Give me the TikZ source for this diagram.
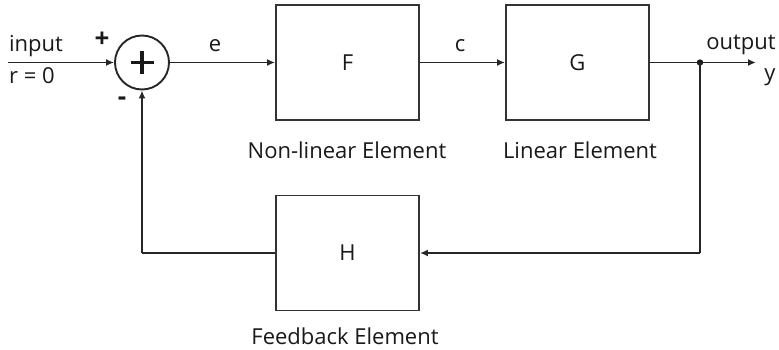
\documentclass[tikz,border=0pt]{standalone}
\usepackage{fontspec}
\setmainfont{Open Sans}
\usetikzlibrary{arrows.meta}
\begin{document}
\begin{tikzpicture}[x=1pt,y=-1pt,
  line width=1.9pt,
  every node/.style={font=\fontsize{22}{26}\selectfont, text=black!90},
  blk/.style={draw=black!80, minimum width=143pt, minimum height=115pt, inner sep=0pt},
  conn/.style={draw=black!85, -{Latex[length=8pt,width=7pt]}},
  wire/.style={draw=black!85},
  lbl/.style={inner sep=0pt, anchor=center}]
\useasboundingbox (0,0) rectangle (779,350);
\node[blk] (F) at (347.5,62.5) {F};
\node[blk] (G) at (577.5,62.5) {G};
\node[blk] (H) at (347.5,253) {H};
\node[draw=black!85, circle, minimum size=54pt, inner sep=0pt] (S) at (142,62.5) {};
\draw[line width=3.2pt, black!90] (142,51) -- (142,74) (130.5,62.5) -- (153.5,62.5);
\coordinate (in) at (8,62.5);
\coordinate (out) at (756,62.5);
\coordinate (j) at (700,62.5);
\coordinate (jb) at (700,253);
\coordinate (lb) at (142,253);
\draw[conn] (in) -- (S);
\draw[conn] (S) -- (F);
\draw[conn] (F) -- (G);
\draw[conn] (G) -- (out);
\fill[black!90] (j) circle (3.2pt);
\draw[wire] (j) -- (jb);
\draw[conn] (jb) -- (H);
\draw[wire] (H) -- (lb);
\draw[conn] (lb) -- (S);
\node[lbl] (tin) at (36,46) {input};
\node[lbl] (tr) at (32,76) {r = 0};
\node[lbl, font=\fontsize{26}{26}\selectfont\bfseries] (tp) at (102,40) {+};
\node[lbl, font=\fontsize{26}{26}\selectfont\bfseries] (tm) at (122,101) {-};
\node[lbl] (te) at (215,46) {e};
\node[lbl] (tc) at (460,46) {c};
\node[lbl] (tout) at (741,45) {output};
\node[lbl] (ty) at (770,77) {y};
\node[lbl] (tF) at (347,150) {Non-linear Element};
\node[lbl] (tG) at (580,150) {Linear Element};
\node[lbl] (tH) at (345,336) {Feedback Element};
\end{tikzpicture}
\end{document}
